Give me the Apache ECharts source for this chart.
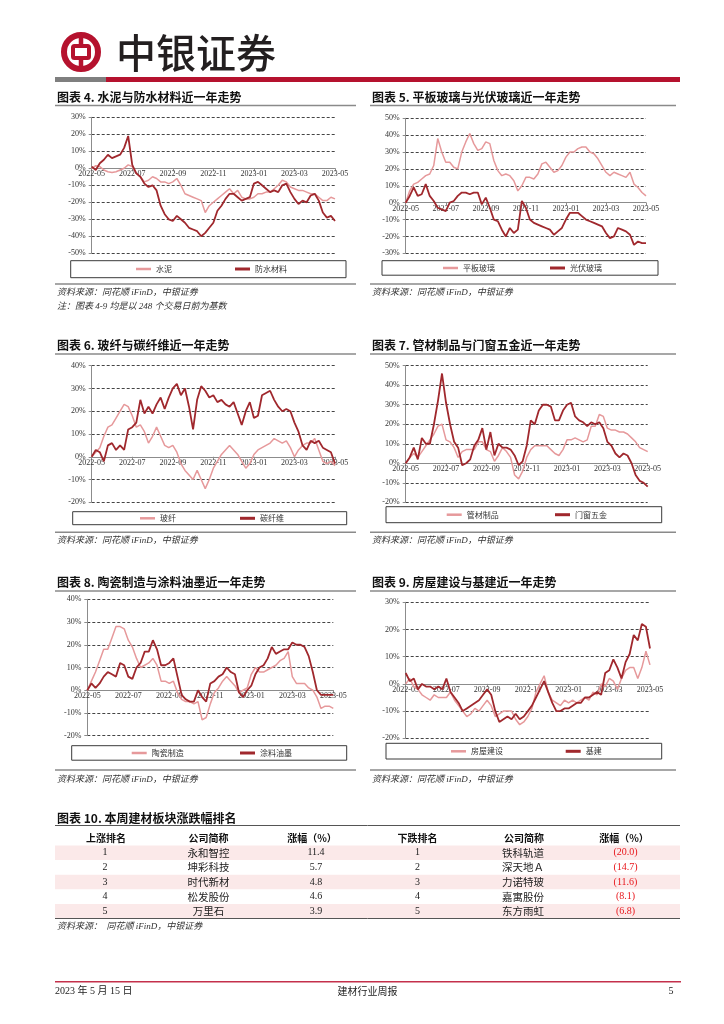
<!DOCTYPE html>
<html><head><meta charset="utf-8">
<script src="https://cdn.jsdelivr.net/npm/echarts@6/dist/echarts.min.js"></script>
<style>html,body{margin:0;padding:0;background:#fff}#c{width:724px;height:1024px}</style>
</head><body><div id="c"></div>
<script>
// ---------- data ----------
const tickLabels = ['2022-05','2022-07','2022-09','2022-11','2023-01','2023-03','2023-05'];
const cement = [0,1.5,1,-1,-2,-2.5,-2,-1,0,2, 1,-3,-5,-8,-7,-5,-6,-8,-8,-9, -8,-6,-10,-15,-16,-17,-18,-19,-26,-22, -20,-18,-16,-14,-12,-15,-13,-17,-18,-18, -17,-15,-15,-14,-14,-12,-10,-7,-8,-11, -12,-13,-13,-14,-15,-15,-17,-19,-19,-17, -18];
const waterproof = [1,-1,3,5,8,6,7,8,12,19, 2,-3,-5,-9,-11,-10,-13,-22,-27,-30, -31,-28,-30,-32,-35,-36,-37,-40,-38,-35, -32,-25,-22,-18,-15,-15,-17,-19,-18,-17, -9,-8,-10,-12,-14,-13,-14,-10,-9,-14, -18,-21,-19,-20,-16,-15,-19,-26,-29,-28, -31];
const flatGlass = [0,7,11,12,14,16,17,22,38,30, 24,24,21,20,30,36,41,35,31,32, 36,35,25,19,16,17,16,13,7,10, 15,15,14,17,23,24,21,18,19,22, 27,30,30,32,33,33,30,29,26,22, 18,16,18,17,16,15,18,11,9,6, 4];
const pvGlass = [0,4,9,4,5,11,4,1,-3,-4, -5,0,1,4,6,6,5,6,6,-1, 3,-3,-10,-11,-16,-20,-15,-18,-16,1, -3,-10,-12,-13,-14,-15,-16,-19,-17,-15, -10,-6,-6,-6,-8,-10,-11,-12,-13,-14, -18,-21,-20,-15,-16,-17,-19,-25,-23,-24, -24];
const glassFiber = [0,2,4,9,13,14,17,20,23,22, 18,13,14,11,6,9,13,9,5,4, 5,2,-3,-6,-8,-10,-6,-10,-14,-10, -5,-2,1,3,5,3,1,-2,-5,-3, 1,3,4,5,6,8,7,6,7,4, 0,3,5,6,6,8,3,-2,-3,-2, -4];
const carbonFiber = [0,3,2,-2,5,6,3,5,3,12, 13,15,25,19,22,19,23,26,21,26, 30,32,27,30,22,12,25,31,29,26, 27,24,25,23,22,24,19,14,20,24, 17,18,27,28,29,25,22,20,21,20, 15,11,5,3,7,6,7,4,3,2, -3];
const pipe = [0,3,5,3,6,9,12,15,19,20, 12,11,8,3,6,7,7,7,11,11, 7,6,1,4,8,6,3,-6,-8,-4, 3,7,9,9,9,9,7,5,4,7, 12,12,13,12,11,12,19,19,25,24, 18,17,17,16,16,15,13,11,8,7, 6];
const hardware = [0,3,8,2,13,10,10,20,32,46, 31,20,11,8,-1,0,2,9,12,18, 7,16,4,10,8,8,7,4,-1,1, 9,22,20,27,30,30,29,22,22,27, 30,31,24,22,21,19,21,20,21,18, 11,9,5,3,5,4,0,-6,-9,-10, -12];
const ceramic = [0,4,8,13,18,18,23,28,28,27, 22,19,14,10,11,12,14,11,4,4, 3,4,-1,-4,-5,-5,-6,-5,-13,-12, -6,-1,1,4,6,4,2,-1,0,1, 7,10,8,8,9,10,11,13,14,17, 6,3,3,3,1,0,-3,-8,-7,-7, -8];
const coating = [0,3,1,3,6,8,7,6,12,11, 6,5,10,12,17,17,22,18,11,11, 12,14,6,-2,-4,-5,-5,0,-3,-5, 3,4,6,7,10,8,7,-1,-3,0, 2,7,10,11,14,19,16,17,18,18, 21,20,20,19,15,8,0,-2,-2,-2, -2];
const housing = [0,2,-1,-2,-4,-5,-6,-4,-5,-5, -5,-3,-6,-8,-10,-12,-11,-9,-10,-8, -6,-8,-12,-11,-10,-10,-10,-13,-15,-14, -12,-9,-3,0,3,-3,-6,-7,-8,-6, -7,-6,-7,-6,-5,-6,-3,-4,0,-1, 2,1,-2,2,5,6,6,2,6,12, 7];
const infra = [4,1,2,-2,0,-1,-1,-2,-1,-2, 2,-3,-5,-7,-10,-9,-8,-7,-6,-4, -2,-4,-10,-14,-13,-12,-13,-11,-13,-12, -10,-8,-5,-2,1,-3,-7,-10,-10,-9, -9,-8,-7,-7,-5,-5,-4,-3,-4,4, 5,9,6,2,8,11,18,16,22,21, 13];

const upRank = ['1','2','3','4','5'];
const upNames = ['永和智控','坤彩科技','时代新材','松发股份','万里石'];
const upValues = [11.4,5.7,4.8,4.6,3.9];
const downRank = ['1','2','3','4','5'];
const downNames = ['铁科轨道','深天地Ａ','力诺特玻','嘉寓股份','东方雨虹'];
const downValues = [-20.0,-14.7,-11.6,-8.1,-6.8];
const tableHeaders = ['上涨排名','公司简称','涨幅（%）','下跌排名','公司简称','涨幅（%）'];

// ---------- layout ----------
const positions = cement.map((_, i) => String(i));
const LIGHT = '#e6999b', DARK = '#a0282d';
const panels = [
  {title:'图表 4. 水泥与防水材料近一年走势', names:['水泥','防水材料'], data:[cement, waterproof], min:-50, max:30,
   grid:[91.7,117.3,243.3,136], box:[70.7,260.7,275.3,17], lx:[136,235], ly:269, col:0, tY:97, uY:105.5, sY:284, srcY:293},
  {title:'图表 5. 平板玻璃与光伏玻璃近一年走势', names:['平板玻璃','光伏玻璃'], data:[flatGlass, pvGlass], min:-30, max:50,
   grid:[405.7,118.3,240.3,135], box:[382,260.7,276,14.5], lx:[443,550], ly:268, col:1, tY:97, uY:105.5, sY:284, srcY:293},
  {title:'图表 6. 玻纤与碳纤维近一年走势', names:['玻纤','碳纤维'], data:[glassFiber, carbonFiber], min:-20, max:40,
   grid:[91.7,365.7,243.3,136.6], box:[72.7,511.7,274,13], lx:[140,240], ly:518.3, col:0, tY:345, uY:354, sY:532.3, srcY:540.7},
  {title:'图表 7. 管材制品与门窗五金近一年走势', names:['管材制品','门窗五金'], data:[pipe, hardware], min:-20, max:50,
   grid:[405.7,365.7,242,136.6], box:[386,506.7,275.7,16], lx:[446.7,555], ly:514.7, col:1, tY:345, uY:354, sY:532.3, srcY:540.7},
  {title:'图表 8. 陶瓷制造与涂料油墨近一年走势', names:['陶瓷制造','涂料油墨'], data:[ceramic, coating], min:-20, max:40,
   grid:[87.3,599.3,246,136.4], box:[71.7,745.7,275,14.5], lx:[131.7,240], ly:753, col:0, tY:582.3, uY:591, sY:770, srcY:779.3},
  {title:'图表 9. 房屋建设与基建近一年走势', names:['房屋建设','基建'], data:[housing, infra], min:-20, max:30,
   grid:[405.7,602.3,244.3,136], box:[386,743.3,275.7,15.7], lx:[451,565.7], ly:751.3, col:1, tY:582.3, uY:591, sY:770, srcY:779.3}
];

const SERIF = '"Liberation Serif","Noto Sans CJK SC"';
const SANS = '"Noto Sans CJK SC"';
const RED = '#b5122e';
const G = [];
function txt(x, y, text, font, fill, align) {
  G.push({type:'text', x:x, y:y, silent:true, z:10,
    style:{text:text, font:font, fill:fill || '#000', textAlign:align || 'left', align:align || 'left',
           textVerticalAlign:'middle', verticalAlign:'middle'}});
}
function hline(x1, x2, y, color, w) {
  G.push({type:'line', silent:true, z:10, shape:{x1:x1, y1:y, x2:x2, y2:y}, style:{stroke:color, lineWidth:w}});
}
function rect(x, y, w, h, fill, stroke, lw) {
  G.push({type:'rect', silent:true, z:1, shape:{x:x, y:y, width:w, height:h},
    style:{fill:fill || 'none', stroke:stroke || 'none', lineWidth:lw || 0}});
}

// header
G.push({type:'circle', silent:true, z:10, shape:{cx:81, cy:52, r:17}, style:{fill:'none', stroke:RED, lineWidth:6}});
G.push({type:'rect', silent:true, z:10, shape:{x:73, y:46, width:16, height:12, r:1.5}, style:{fill:'#fff', stroke:RED, lineWidth:4}});
G.push({type:'line', silent:true, z:10, shape:{x1:81, y1:34, x2:81, y2:44}, style:{stroke:RED, lineWidth:4.5}});
G.push({type:'line', silent:true, z:10, shape:{x1:81, y1:60, x2:81, y2:70}, style:{stroke:RED, lineWidth:4.5}});
txt(116, 53, '中银证券', '500 40px ' + SANS, '#231f20');
rect(55, 77, 51, 5, '#7f7f7f');
rect(106, 77, 574, 5, RED);

// panel decorations
const colX = [[55, 356, 57], [370, 676, 372]];
panels.forEach(p => {
  const c = colX[p.col];
  txt(c[2], p.tY, p.title, 'bold 12px ' + SANS, '#111');
  hline(c[0], c[1], p.uY, '#8a8a8a', 1.5);
  hline(c[0], c[1], p.sY, '#8a8a8a', 1.5);
  txt(c[2], p.srcY, '资料来源：同花顺 iFinD，中银证券', 'italic 9px ' + SERIF, '#333');
  rect(p.box[0], p.box[1], p.box[2], p.box[3], '#fff', '#3a3a3a', 1);
});
txt(57, 307, '注：图表 4-9 均是以 248 个交易日前为基数', 'italic 9px ' + SERIF, '#333');

// table
txt(57, 818, '图表 10. 本周建材板块涨跌幅排名', 'bold 12px ' + SANS, '#111');
hline(55, 680, 825.5, '#555', 1);
const hdrX = [106, 208.6, 312, 417.5, 524, 624];
const colCX = [105, 208.6, 316, 417.5, 523, 625.5];
tableHeaders.forEach((h, i) => txt(hdrX[i], 838.3, h, 'bold 10px ' + SANS, '#111', 'center'));
const rowY = [852.7, 867.3, 881.9, 896.6, 911.1];
rowY.forEach((y, r) => {
  if (r % 2 === 0) rect(55, y - 7.2, 625, 14.5, '#fbe9e9');
  const f = '10px ' + SERIF;
  txt(colCX[0], y, upRank[r], f, '#222', 'center');
  txt(colCX[1], y, upNames[r], '10.5px ' + SANS, '#222', 'center');
  txt(colCX[2], y, upValues[r].toFixed(1), f, '#222', 'center');
  txt(colCX[3], y, downRank[r], f, '#222', 'center');
  txt(colCX[4], y, downNames[r], '10.5px ' + SANS, '#222', 'center');
  txt(colCX[5], y, '(' + Math.abs(downValues[r]).toFixed(1) + ')', f, '#e8161b', 'center');
});
hline(55, 680, 918.5, '#555', 1);
txt(57, 927, '资料来源：  同花顺 iFinD，中银证券', 'italic 9px ' + SERIF, '#333');

// footer
hline(55, 681, 981.7, '#c4304b', 1.5);
txt(55, 991, '2023 年 5 月 15 日', '10px ' + SERIF, '#222');
txt(367.5, 991, '建材行业周报', '10px ' + SANS, '#222', 'center');
txt(671, 991, '5', '10px ' + SERIF, '#222', 'center');

// ---------- chart ----------
const axisGray = '#8c8c8c';
const option = {
  animation:false,
  backgroundColor:'#fff',
  grid: panels.map(p => ({left:p.grid[0], top:p.grid[1], width:p.grid[2], height:p.grid[3]})),
  xAxis: panels.map((p, i) => ({
    type:'category', gridIndex:i, data:positions, boundaryGap:false, position:'bottom',
    // place the axis where the value axis crosses 0
    offset: -p.grid[3] * (-p.min) / (p.max - p.min),
    axisLine:{onZero:false, lineStyle:{color:axisGray, width:1}},
    axisTick:{show:true, interval:9, length:3, lineStyle:{color:axisGray}},
    axisLabel:{interval:9, margin:2, fontSize:8, fontFamily:SERIF, color:'#333', hideOverlap:false,
      formatter:(v, idx) => tickLabels[Math.round(idx / 10)] || ''},
    splitLine:{show:false}
  })),
  yAxis: panels.map((p, i) => ({
    type:'value', gridIndex:i, min:p.min, max:p.max, interval:10,
    axisLine:{show:true, onZero:false, lineStyle:{color:axisGray, width:1}},
    axisTick:{show:true, length:3, lineStyle:{color:axisGray}},
    axisLabel:{formatter:'{value}%', fontSize:8, margin:6, fontFamily:SERIF, color:'#333'},
    splitLine:{show:true, lineStyle:{type:[3,2], color:'#444', width:1}}
  })),
  legend: [],
  series: [],
  graphic: G
};
panels.forEach((p, i) => {
  [0, 1].forEach(k => {
    const color = k === 0 ? LIGHT : DARK;
    option.series.push({
      type:'line', name:p.names[k], xAxisIndex:i, yAxisIndex:i, data:p.data[k],
      symbol:'none', smooth:false, z:2 + k,
      lineStyle:{color:color, width:k === 0 ? 1.5 : 1.8}, itemStyle:{color:color}
    });
    option.legend.push({
      data:[p.names[k]], left:p.lx[k], top:p.ly - 5, padding:0, icon:'rect',
      itemWidth:15, itemHeight:k === 0 ? 2.5 : 3, selectedMode:false, z:12,
      textStyle:{fontSize:8, color:'#333', fontFamily:SANS, lineHeight:10}
    });
  });
});
const chart = echarts.init(document.getElementById('c'), null, {renderer:'canvas', width:724, height:1024});
chart.setOption(option);
</script>
</body></html>
